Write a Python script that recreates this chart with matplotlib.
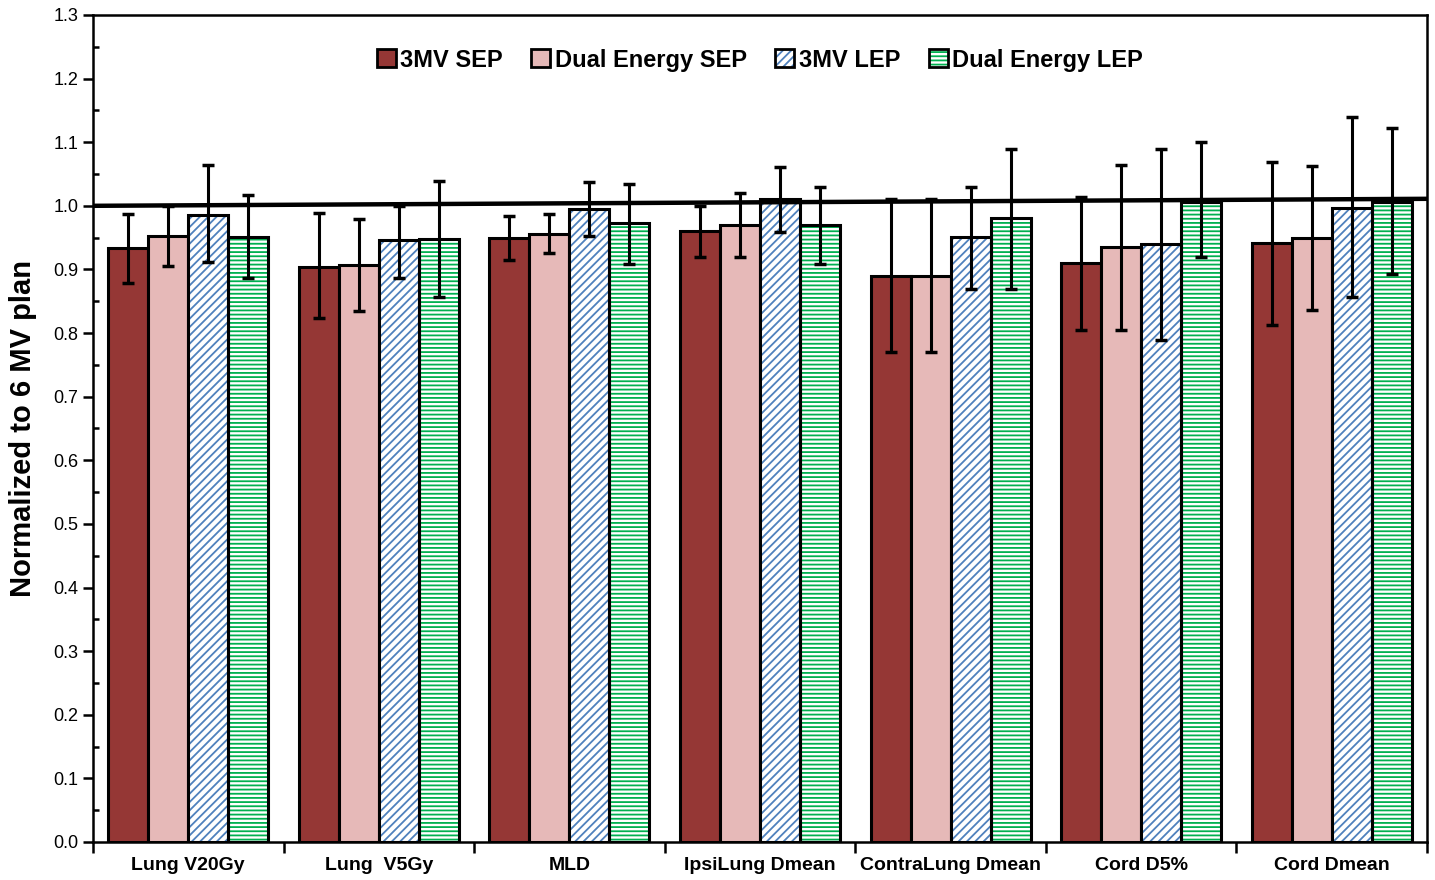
import numpy as np
import matplotlib
matplotlib.use('Agg')
import matplotlib.pyplot as plt
from matplotlib.patches import Patch
from matplotlib.legend_handler import HandlerTuple

plt.rcParams['font.family'] = ['Liberation Sans', 'DejaVu Sans']
plt.rcParams['hatch.linewidth'] = 1.3

# DATA
categories = ['Lung V20Gy', 'Lung  V5Gy', 'MLD', 'IpsiLung Dmean', 'ContraLung Dmean', 'Cord D5%', 'Cord Dmean']
series = ['3MV SEP', 'Dual Energy SEP', '3MV LEP', 'Dual Energy LEP']

sep_3mv = [0.934, 0.904, 0.950, 0.961, 0.890, 0.910, 0.941]
sep_dual = [0.953, 0.907, 0.956, 0.970, 0.890, 0.935, 0.950]
lep_3mv = [0.986, 0.947, 0.995, 1.011, 0.951, 0.940, 0.997]
lep_dual = [0.951, 0.948, 0.973, 0.970, 0.981, 1.006, 1.006]

# error bar limits (lower, upper)
sep_3mv_lo = [0.879, 0.824, 0.915, 0.920, 0.770, 0.805, 0.813]
sep_3mv_hi = [0.987, 0.989, 0.984, 1.000, 1.011, 1.014, 1.069]
sep_dual_lo = [0.906, 0.835, 0.926, 0.920, 0.770, 0.805, 0.836]
sep_dual_hi = [1.000, 0.980, 0.987, 1.020, 1.011, 1.064, 1.063]
lep_3mv_lo = [0.912, 0.887, 0.953, 0.959, 0.869, 0.789, 0.857]
lep_3mv_hi = [1.064, 1.000, 1.038, 1.061, 1.030, 1.090, 1.140]
lep_dual_lo = [0.887, 0.857, 0.909, 0.909, 0.869, 0.920, 0.893]
lep_dual_hi = [1.017, 1.039, 1.035, 1.030, 1.090, 1.100, 1.123]

ref_line = [1.0, 1.011]  # reference line, slightly tilted in the original

yticks = np.arange(0, 1.31, 0.1)

# styles
fills = ['#953735', '#E6B9B8', 'white', 'white']
hatches = [None, None, '////', '----']
hatch_colors = [None, None, '#4F81BD', '#00B050']

values = [sep_3mv, sep_dual, lep_3mv, lep_dual]
lows = [sep_3mv_lo, sep_dual_lo, lep_3mv_lo, lep_dual_lo]
highs = [sep_3mv_hi, sep_dual_hi, lep_3mv_hi, lep_dual_hi]

fig = plt.figure(figsize=(14.35, 8.8), dpi=100)
ax = fig.add_axes([0.0648, 0.0432, 0.9296, 0.9398])

x = np.arange(len(categories))
width = 0.21

for i in range(4):
    pos = x + (i - 1.5) * width
    v = np.array(values[i])
    yerr = [v - np.array(lows[i]), np.array(highs[i]) - v]
    if hatches[i] is None:
        ax.bar(pos, v, width, color=fills[i], edgecolor='black', linewidth=2.2, zorder=2)
    else:
        # hatch drawn in its own colour, then a black outline on top
        ax.bar(pos, v, width, color='white', edgecolor=hatch_colors[i], hatch=hatches[i], linewidth=0, zorder=2)
        ax.bar(pos, v, width, color='none', edgecolor='black', linewidth=2.2, zorder=3)
    ax.errorbar(pos, v, yerr=yerr, fmt='none', ecolor='black', elinewidth=2.2, capsize=4.5, capthick=2.5, zorder=4)

# reference line at 1.0
ax.plot([-0.5, len(categories) - 0.5], ref_line, color='black', lw=3.2, zorder=5)

ax.set_xlim(-0.5, len(categories) - 0.5)
ax.set_ylim(0, 1.3)
ax.set_yticks(yticks)
ax.set_yticklabels(['%.1f' % t for t in yticks], fontsize=13)
ax.set_yticks(np.arange(0.05, 1.3, 0.1), minor=True)
ax.tick_params(axis='y', which='major', direction='out', length=7, width=1.8)
ax.tick_params(axis='y', which='minor', direction='in', length=4, width=1.8)

ax.set_xticks(x)
ax.set_xticklabels(categories, fontsize=14, fontweight='bold')
ax.set_xticks(np.arange(-0.5, len(categories), 1.0), minor=True)
ax.tick_params(axis='x', which='major', length=0, pad=11)
ax.tick_params(axis='x', which='minor', direction='out', length=8, width=1.8)

for s in ax.spines.values():
    s.set_linewidth(1.8)

ax.set_ylabel('Normalized to 6 MV plan', fontsize=21, fontweight='bold', labelpad=12)

# legend - hatched handles are a hatch patch with a black outline on top
handles = []
for i in range(4):
    if hatches[i] is None:
        handles.append(Patch(facecolor=fills[i], edgecolor='black', linewidth=2))
    else:
        handles.append((Patch(facecolor='white', edgecolor=hatch_colors[i], hatch=hatches[i], linewidth=0),
                        Patch(facecolor='none', edgecolor='black', linewidth=2)))
leg = ax.legend(handles, series, loc='upper center', bbox_to_anchor=(0.5, 0.985), ncol=4, frameon=False,
                prop={'size': 17, 'weight': 'bold'}, handlelength=0.8, handleheight=0.8, handletextpad=0.2,
                columnspacing=1.2, handler_map={tuple: HandlerTuple(ndivide=1, pad=0)})

fig.savefig('out.png', dpi=100)
